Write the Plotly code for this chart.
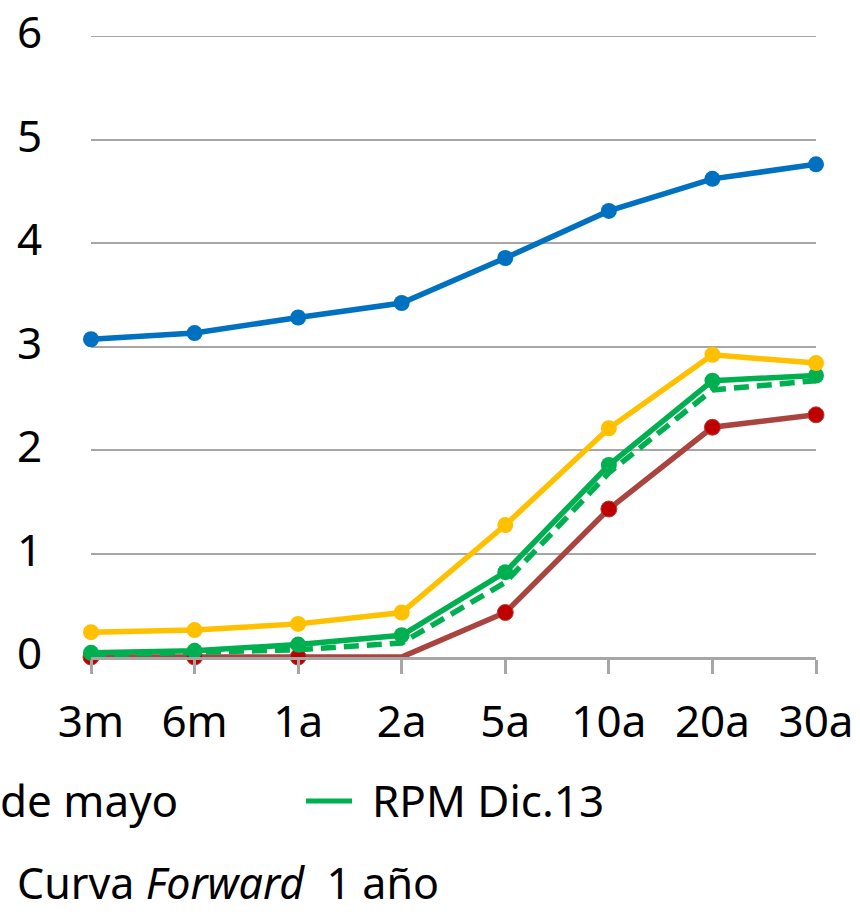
import plotly.graph_objects as go

categories = ["3m", "6m", "1a", "2a", "5a", "10a", "20a", "30a"]
blue_vals = [3.07, 3.13, 3.28, 3.42, 3.855, 4.31, 4.62, 4.76]
yellow_vals = [0.24, 0.26, 0.32, 0.43, 1.275, 2.21, 2.92, 2.84]
green_vals = [0.04, 0.06, 0.12, 0.21, 0.82, 1.855, 2.67, 2.72]
green_dash_vals = [0.02, 0.04, 0.07, 0.135, 0.72, 1.78, 2.58, 2.67]
red_vals = [0.0, 0.0, 0.0, 0.0, 0.43, 1.43, 2.22, 2.34]
y_ticks = [0, 1, 2, 3, 4, 5, 6]

FONT = "Noto Sans"
FS = 44
W, H = 860, 916
L, R, T, B = 91, 44, 36, 259
pw, ph = W - L - R, H - T - B

xs = list(range(len(categories)))
LW = 5.5
MS = 16

fig = go.Figure()
fig.add_trace(go.Scatter(
    x=xs, y=red_vals, mode="lines+markers",
    line=dict(color="#A9443F", width=LW),
    marker=dict(color="#C00000", size=[MS, MS, MS, 0, MS, MS, MS, MS], opacity=1),
    cliponaxis=False, showlegend=False))
fig.add_trace(go.Scatter(
    x=xs, y=green_dash_vals, mode="lines",
    line=dict(color="#00B050", width=LW, dash="15px,8px"),
    cliponaxis=False, showlegend=False))
fig.add_trace(go.Scatter(
    x=xs, y=green_vals, mode="lines+markers",
    line=dict(color="#00B050", width=LW),
    marker=dict(color="#00B050", size=MS),
    cliponaxis=False, showlegend=False))
fig.add_trace(go.Scatter(
    x=xs, y=yellow_vals, mode="lines+markers",
    line=dict(color="#FFC000", width=LW),
    marker=dict(color="#FFC000", size=MS),
    cliponaxis=False, showlegend=False))
fig.add_trace(go.Scatter(
    x=xs, y=blue_vals, mode="lines+markers",
    line=dict(color="#0070C0", width=LW),
    marker=dict(color="#0070C0", size=MS),
    cliponaxis=False, showlegend=False))

def px(xp):
    return (xp - L) / pw

def py(yp):
    return (H - B - yp) / ph

y_label_annotations = [
    dict(text=str(v), xref="paper", yref="y", x=px(44), y=v, yshift=5,
         xanchor="right", yanchor="middle", showarrow=False,
         font=dict(family=FONT, size=FS, color="black"))
    for v in y_ticks
]

fig.update_layout(
    width=W, height=H,
    margin=dict(l=L, r=R, t=T, b=B, autoexpand=False),
    paper_bgcolor="white", plot_bgcolor="white",
    font=dict(family=FONT, size=FS, color="black"),
    xaxis=dict(
        range=[0, len(categories) - 1],
        tickvals=xs, ticktext=categories,
        showgrid=False, zeroline=False, automargin=False,
        showline=True, linecolor="#A6A6A6", linewidth=3,
        ticks="outside", ticklen=14, tickwidth=3, tickcolor="#A6A6A6",
        ticklabelstandoff=10,
        tickfont=dict(family=FONT, size=FS, color="black"),
    ),
    yaxis=dict(
        range=[0, 6],
        tickvals=y_ticks,
        showgrid=True, gridcolor="#A6A6A6", gridwidth=2,
        zeroline=False, showline=False, ticks="", automargin=False,
        showticklabels=False,
    ),
    shapes=[
        dict(type="line", xref="paper", yref="y", x0=0, x1=1, y0=6, y1=6,
             line=dict(color="#A6A6A6", width=2), layer="below"),
        dict(type="line", xref="paper", yref="paper",
             x0=px(306), x1=px(352), y0=py(801), y1=py(801),
             line=dict(color="#00B050", width=5)),
    ],
    annotations=y_label_annotations + [
        dict(text="de mayo", xref="paper", yref="paper", x=px(-2), y=py(800),
             xanchor="left", yanchor="middle", showarrow=False,
             font=dict(family=FONT, size=FS, color="black")),
        dict(text="RPM Dic.13", xref="paper", yref="paper", x=px(370), y=py(800),
             xanchor="left", yanchor="middle", showarrow=False,
             font=dict(family=FONT, size=FS, color="black")),
        dict(text="Curva <i>Forward</i>\u00a0 1 año", xref="paper", yref="paper",
             x=px(15), y=py(882), xanchor="left", yanchor="middle", showarrow=False,
             font=dict(family=FONT, size=43, color="black")),
    ],
)

fig.write_html(
    "out.html",
    config={"displayModeBar": False},
    post_script="document.body.style.margin='0px';document.body.style.padding='0px';",
)
